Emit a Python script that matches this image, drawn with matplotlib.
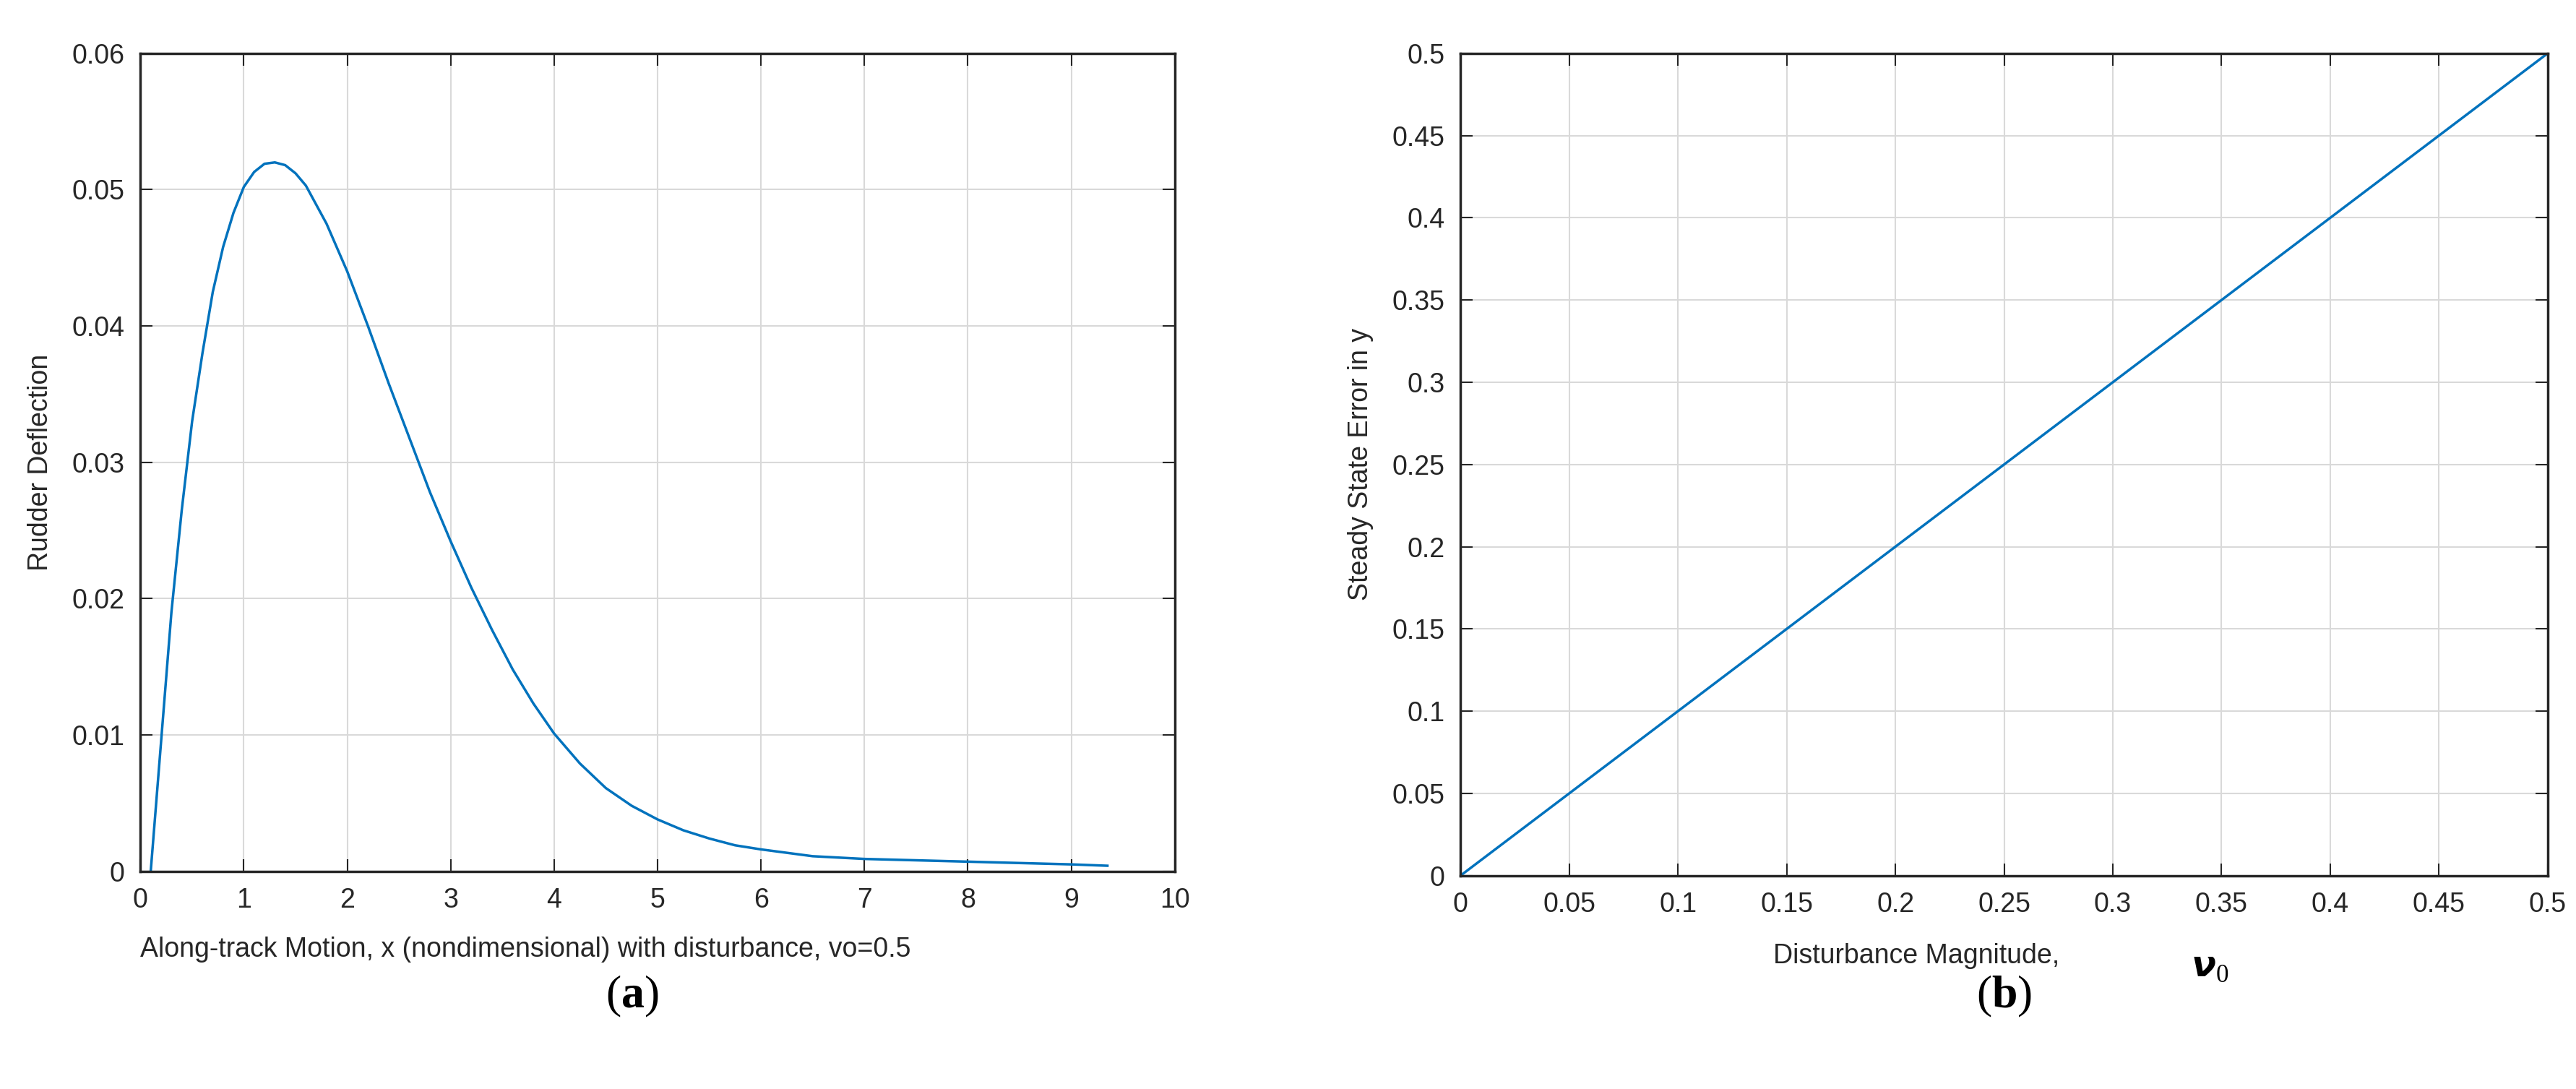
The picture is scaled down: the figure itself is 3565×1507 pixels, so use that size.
import matplotlib.pyplot as plt
import numpy as np

plt.rcParams['font.family'] = ['Liberation Sans', 'DejaVu Sans']
plt.rcParams['mathtext.fontset'] = 'custom'
plt.rcParams['mathtext.bf'] = 'Liberation Serif:bold'
plt.rcParams['mathtext.rm'] = 'Liberation Serif'

# panel (a): rudder deflection vs along-track motion
x_a = [0.1, 0.2, 0.3, 0.4, 0.5, 0.6, 0.7, 0.8, 0.9, 1.0, 1.1, 1.2, 1.3, 1.4, 1.5, 1.6, 1.8,
       2.0, 2.2, 2.4, 2.6, 2.8, 3.0, 3.2, 3.4, 3.6, 3.8, 4.0, 4.25, 4.5, 4.75, 5.0, 5.25,
       5.5, 5.75, 6.0, 6.5, 7.0, 7.5, 8.0, 8.5, 9.0, 9.35]
y_a = [0.0, 0.0095, 0.019, 0.0265, 0.033, 0.038, 0.0425, 0.0458, 0.0483, 0.0502, 0.0513,
       0.0519, 0.0520, 0.0518, 0.0512, 0.0503, 0.0475, 0.0440, 0.0400, 0.0358, 0.0318,
       0.0278, 0.0242, 0.0208, 0.0177, 0.0148, 0.0123, 0.0101, 0.0079, 0.0061, 0.0048,
       0.0038, 0.0030, 0.0024, 0.0019, 0.0016, 0.0011, 0.0009, 0.0008, 0.0007, 0.0006,
       0.0005, 0.0004]

# panel (b): steady state error vs disturbance magnitude
x_b = [0.0, 0.5]
y_b = [0.0, 0.5]

line_color = '#0072BD'
fig = plt.figure(figsize=(35.65, 15.07), dpi=100)
ax1 = fig.add_axes([0.0545, 0.200, 0.4015, 0.751])
ax2 = fig.add_axes([0.567, 0.196, 0.422, 0.755])

ax1.plot(x_a, y_a, color=line_color, lw=2.5)
ax1.set_xlim(0, 10)
ax1.set_ylim(0, 0.06)
ax1.set_xticks(range(0, 11))
ax1.set_yticks([0, 0.01, 0.02, 0.03, 0.04, 0.05, 0.06])
ax1.set_yticklabels(['0', '0.01', '0.02', '0.03', '0.04', '0.05', '0.06'])
ax1.set_ylabel('Rudder Deflection', fontsize=27, color='#262626', labelpad=18)

ax2.plot(x_b, y_b, color=line_color, lw=2.5)
ax2.set_xlim(0, 0.5)
ax2.set_ylim(0, 0.5)
tb = [0, 0.05, 0.1, 0.15, 0.2, 0.25, 0.3, 0.35, 0.4, 0.45, 0.5]
tl = ['0', '0.05', '0.1', '0.15', '0.2', '0.25', '0.3', '0.35', '0.4', '0.45', '0.5']
ax2.set_xticks(tb)
ax2.set_xticklabels(tl)
ax2.set_yticks(tb)
ax2.set_yticklabels(tl)
ax2.set_ylabel('Steady State Error in y', fontsize=27, color='#262626', labelpad=18)

for ax in (ax1, ax2):
    ax.grid(True, color='#d9d9d9', lw=1.5)
    ax.tick_params(direction='in', length=12, width=1.5, top=True, right=True,
                   labelsize=27, pad=16, colors='#262626')
    for s in ax.spines.values():
        s.set_linewidth(2.5)
        s.set_color('#262626')

fig.text(0.0545, 0.128, 'Along-track Motion, x (nondimensional) with disturbance, vo=0.5',
         fontsize=27, color='#262626', ha='left', va='center')
fig.text(0.744, 0.122, 'Disturbance Magnitude,', fontsize=27, color='#262626',
         ha='center', va='center')
fig.text(0.858, 0.112, r'$\boldsymbol{\nu}_0$', fontsize=36, ha='center', va='center')
fig.text(0.2455, 0.085, r'($\mathbf{a}$)', fontsize=46, family='Liberation Serif',
         ha='center', va='center')
fig.text(0.778, 0.085, r'($\mathbf{b}$)', fontsize=46, family='Liberation Serif',
         ha='center', va='center')

fig.savefig('out.png', dpi=100)
